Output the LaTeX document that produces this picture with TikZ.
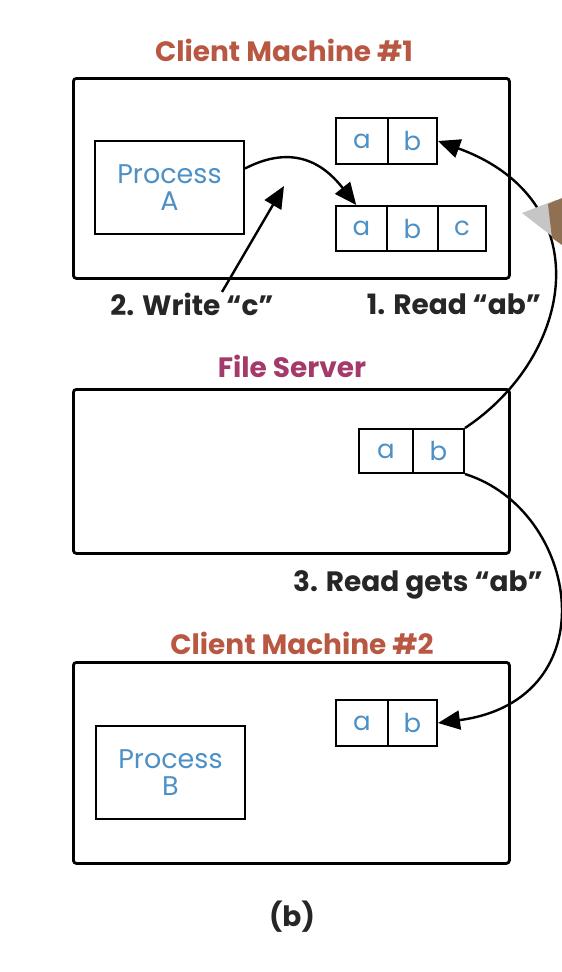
\documentclass[tikz,border=0pt]{standalone}
\usepackage{fontspec}
\setmainfont{Poppins}
\usetikzlibrary{arrows.meta,calc}
\definecolor{titlered}{RGB}{184,88,66}
\definecolor{serverpurple}{RGB}{164,58,106}
\definecolor{cellblue}{RGB}{76,144,198}
\begin{document}
\begin{tikzpicture}[x=1pt,y=-1pt,
  machine/.style={draw,line width=2.8pt,rounded corners=3pt,anchor=north west,inner sep=0pt},
  procbox/.style={draw,line width=2pt,anchor=north west,inner sep=0pt,
    text=cellblue,font=\fontsize{27}{27}\selectfont,align=center},
  cell/.style={draw,line width=2pt,anchor=north west,inner sep=0pt,
    text=cellblue,font=\fontsize{26}{26}\selectfont},
  title/.style={font=\fontsize{28}{30}\selectfont\bfseries},
  steplabel/.style={font=\fontsize{28}{30}\selectfont\bfseries,text=black!85},
  flow/.style={line width=2.4pt,-{Triangle[length=22pt,width=19pt]}}]
\useasboundingbox (0,0) rectangle (562,972);

% ---- Client machine #1 ----
\node[title,text=titlered] (t1) at (284,50) {Client Machine \#1};
\node[machine,minimum width=436pt,minimum height=200pt] (m1) at (72,77) {};
\node[procbox,minimum width=149pt,minimum height=93pt] (pa) at (94,140) {Process\\A};
\node[cell,minimum width=52pt,minimum height=46pt] (ta1) at (335,117) {a};
\node[cell,minimum width=49pt,minimum height=46pt] (ta2) at (387,117) {b};
\node[cell,minimum width=51pt,minimum height=45pt] (tc1) at (335,205) {a};
\node[cell,minimum width=51pt,minimum height=45pt] (tc2) at (386,205) {b};
\node[cell,minimum width=48pt,minimum height=45pt] (tc3) at (437,205) {c};

% ---- File server ----
\node[title,text=serverpurple] (t2) at (292,366) {File Server};
\node[machine,minimum width=436pt,minimum height=164pt] (fs) at (72,388) {};
\node[cell,minimum width=54pt,minimum height=44pt] (fa1) at (358,428) {a};
\node[cell,minimum width=51pt,minimum height=44pt] (fa2) at (412,428) {b};

% ---- Client machine #2 ----
\node[title,text=titlered] (t3) at (302,643) {Client Machine \#2};
\node[machine,minimum width=436pt,minimum height=201pt] (m2) at (72,661) {};
\node[procbox,minimum width=149pt,minimum height=93pt] (pb) at (95,725) {Process\\B};
\node[cell,minimum width=52pt,minimum height=46pt] (ba1) at (335,699) {a};
\node[cell,minimum width=49pt,minimum height=46pt] (ba2) at (387,699) {b};

% ---- step labels ----
\node[steplabel] (l2) at (192,304) {2. Write “c”};
\node[steplabel] (l1) at (454,304) {1. Read “ab”};
\node[steplabel] (l3) at (418,585) {3. Read gets “ab”};
\node[steplabel] (cap) at (292,917) {(b)};

% ---- connectors ----
\coordinate (wstart) at (222,292);
\coordinate (wend) at (284,186);
\draw[flow] ($(pa.north east)!0.3!(pa.south east)$) .. controls (300,140) and (330,172) .. ($(tc1.north west)!0.4!(tc1.north east)$);
\draw[flow] (wstart) -- (wend);
\draw[flow] (fa2.north east) .. controls (575,355) and (600,200) .. (ta2.east);
\draw[flow] (fa2.south east) .. controls (580,510) and (610,700) .. (ba2.east);

% ---- pen tip at the right edge ----
\fill[gray!45] (522,213) -- (556,200) -- (562,203) -- (562,244) -- cycle;
\fill[black!40!brown!80] (548,204) -- (562,198) -- (562,245) -- (552,238) -- cycle;
\end{tikzpicture}
\end{document}
